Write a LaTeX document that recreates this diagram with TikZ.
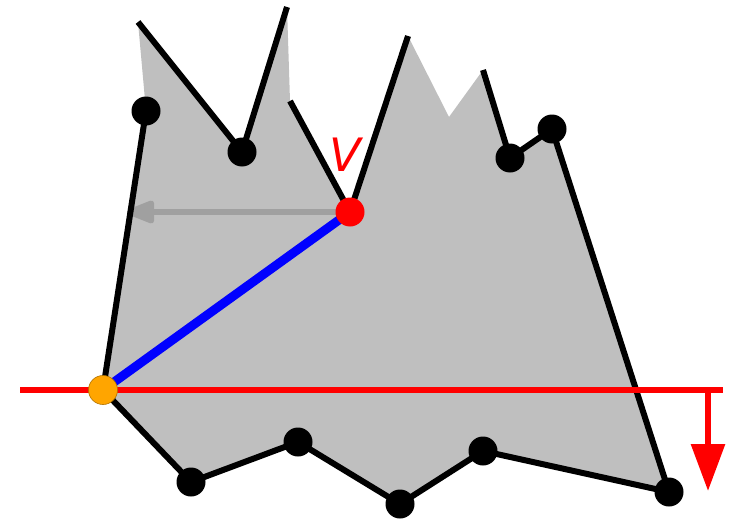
\documentclass[tikz,border=0pt]{standalone}
\usepackage{fontspec}
\setsansfont{DejaVu Sans}
\usetikzlibrary{arrows.meta}
\definecolor{polyfill}{HTML}{BFBFBF}
\definecolor{arrowgray}{HTML}{A0A0A0}
\definecolor{dotorange}{HTML}{FFA500}
\begin{document}
\begin{tikzpicture}[x=1pt,y=-1pt,
  edge/.style={line width=6pt,black},
  dot/.style={circle,fill=black,minimum size=29pt,inner sep=0pt},
  vdot/.style={circle,fill=red,minimum size=29pt,inner sep=0pt},
  odot/.style={circle,fill=dotorange,draw=dotorange!70!black,line width=0.6pt,minimum size=29pt,inner sep=0pt}]
\useasboundingbox (0,0) rectangle (733,519);
% vertices
\coordinate (o) at (103,390);
\coordinate (a) at (146,111);
\coordinate (b) at (138,22);
\coordinate (c) at (242,152);
\coordinate (d) at (287,7);
\coordinate (e) at (290,101);
\coordinate (v) at (350,212);
\coordinate (f) at (408,36);
\coordinate (g) at (449,117);
\coordinate (h) at (483,70);
\coordinate (i) at (510,158);
\coordinate (j) at (552,129);
\coordinate (k) at (669,492);
\coordinate (l) at (483,451);
\coordinate (m) at (400,504);
\coordinate (n) at (298,442);
\coordinate (p) at (191,482);
\coordinate (q) at (127,212);
\coordinate (r1) at (20,390);
\coordinate (r2) at (723,390);
\coordinate (s1) at (708,390);
\coordinate (s2) at (708,491);
% fill
\fill[polyfill] (o) -- (a) -- (b) -- (c) -- (d) -- (e) -- (v) -- (f) -- (g) -- (h) -- (i) -- (j) -- (k) -- (l) -- (m) -- (n) -- (p) -- cycle;
% gray arrow
\draw[arrowgray,line width=6pt,-{Triangle[length=33pt,width=24pt,round]}] (v) -- (q);
% black edges
\draw[edge] (b) -- (c) -- (d);
\draw[edge] (e) -- (v) -- (f);
\draw[edge] (h) -- (i) -- (j) -- (k) -- (l) -- (m) -- (n) -- (p) -- (o) -- (a);
% blue
\draw[blue,line width=9pt] (o) -- (v);
% red line and arrow
\draw[red,line width=6pt] (r1) -- (r2);
\draw[red,line width=6pt,-{Triangle[length=47pt,width=33pt]}] (s1) -- (s2);
% dots
\node[dot] (da) at (a) {};
\node[dot] (dc) at (c) {};
\node[dot] (di) at (i) {};
\node[dot] (dj) at (j) {};
\node[dot] (dk) at (k) {};
\node[dot] (dl) at (l) {};
\node[dot] (dm) at (m) {};
\node[dot] (dn) at (n) {};
\node[dot] (dp) at (p) {};
\node[vdot] (dv) at (v) {};
\node[odot] (do) at (o) {};
\node[red,font=\sffamily\itshape\fontsize{46}{46}\selectfont,inner sep=0pt] (lv) at (345,155) {V};
\end{tikzpicture}
\end{document}
